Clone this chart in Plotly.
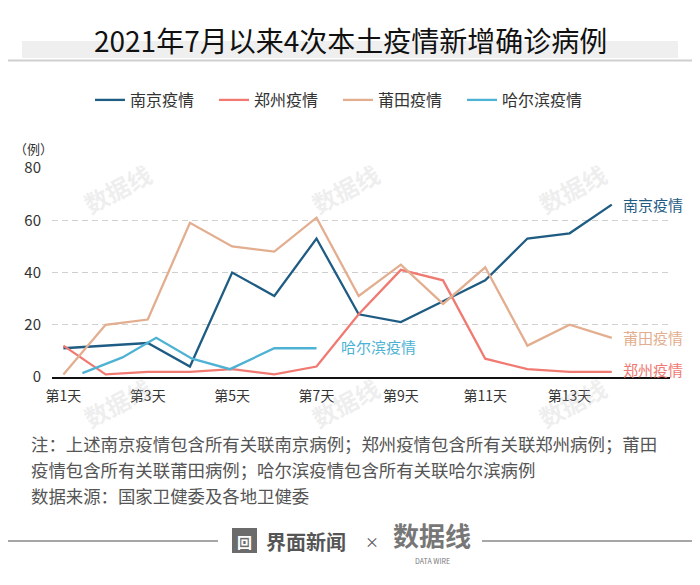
import plotly.graph_objects as go

# 数据：2021年7月以来4次本土疫情新增确诊病例（按疫情第N天）
days = list(range(1, 15))
nanjing = [11, 12, 13, 4, 40, 31, 53, 24, 21, 29, 37, 53, 55, 66]
zhengzhou = [12, 1, 2, 2, 3, 1, 4, 24, 41, 37, 7, 3, 2, 2]
putian = [1, 20, 22, 59, 50, 48, 61, 31, 43, 28, 42, 12, 20, 15]
harbin_days = [1.45, 2.4, 3.2, 4.05, 4.95, 6, 7]
harbin = [1.5, 7.5, 15, 7, 3, 11, 11]

tick_days = [1, 3, 5, 7, 9, 11, 13]
tick_text = ["第%d天" % d for d in tick_days]

names = ["南京疫情", "郑州疫情", "莆田疫情", "哈尔滨疫情"]
colors = ["#1f5c83", "#f07a72", "#e3ae8f", "#4db2d3"]

# 页面body默认有8px边距，画布整体缩小8px来抵消
OFF = 8
W, H = 700 - OFF, 585 - OFF
L, R, T, B = 52 - OFF, 30, 168 - OFF, 208
PW, PH = W - L - R, H - T - B


def px(x):
    # 参考图像素 -> paper坐标
    return (x - 52) / PW


def py(y):
    return (377 - y) / PH


FONT = "Noto Sans CJK SC, Noto Sans, sans-serif"

fig = go.Figure()

series = [(days, nanjing), (days, zhengzhou), (days, putian), (harbin_days, harbin)]
for (xs, ys), name, c in zip(series, names, colors):
    fig.add_trace(go.Scatter(
        x=xs, y=ys, mode="lines", name=name,
        line=dict(color=c, width=2.3),
        hoverinfo="x+y+name",
    ))


def note(x, y, text, size, color, anchor="center", angle=0):
    return dict(x=px(x), y=py(y), xref="paper", yref="paper", text=text,
                showarrow=False, xanchor=anchor, yanchor="middle", textangle=angle,
                font=dict(size=size, color=color, family=FONT))


# 线尾标签
end_labels = [
    (days[-1], nanjing[-1], names[0], colors[0], 9, 0),
    (days[-1], zhengzhou[-1], names[1], colors[1], 9, 2),
    (days[-1], putian[-1], names[2], colors[2], 9, 0),
    (harbin_days[-1], harbin[-1], names[3], colors[3], 22, 2),
]
annotations = []
for x, y, txt, c, xs, ys in end_labels:
    annotations.append(dict(
        x=x, y=y, xref="x", yref="y", text=txt, showarrow=False,
        xanchor="left", yanchor="middle", xshift=xs, yshift=ys,
        font=dict(size=15, color=c, family=FONT),
    ))

# 水印
for wx, wy in [(117, 188), (345, 188), (572, 188), (117, 402), (345, 402), (572, 402)]:
    annotations.append(note(wx, wy, "<b>数据线</b>", 24, "rgba(190,190,190,0.25)", angle=-28))

annotations += [
    note(350, 40, "2021年7月以来4次本土疫情新增确诊病例", 28, "#111"),
    note(12, 148, "（例）", 13, "#333", anchor="left"),
    note(29, 443, "注：上述南京疫情包含所有关联南京病例；郑州疫情包含所有关联郑州病例；莆田",
         17.4, "#555", anchor="left"),
    note(29, 469, "疫情包含所有关联莆田病例；哈尔滨疫情包含所有关联哈尔滨病例",
         17.4, "#555", anchor="left"),
    note(29, 495, "数据来源：国家卫健委及各地卫健委", 17.4, "#555", anchor="left"),
    # 底部logo
    note(244.5, 541, "<b>回</b>", 15, "white"),
    note(306, 541, "<b>界面新闻</b>", 20, "#555"),
    note(372, 541, "×", 14, "#555"),
    note(432, 534, "<b>数据线</b>", 26, "#777"),
    note(432, 561, "DATA WIRE", 7, "#777"),
]

shapes = [
    dict(type="rect", xref="paper", yref="paper", x0=px(22), x1=px(678),
         y0=py(58), y1=py(41), fillcolor="#efefef", line_width=0, layer="below"),
    dict(type="line", xref="paper", yref="paper", x0=px(0), x1=px(700),
         y0=py(60.5), y1=py(60.5), line=dict(color="#cfcfcf", width=2)),
    dict(type="line", xref="paper", yref="paper", x0=px(0), x1=px(218),
         y0=py(541), y1=py(541), line=dict(color="#888", width=1.5)),
    dict(type="line", xref="paper", yref="paper", x0=px(482), x1=px(700),
         y0=py(541), y1=py(541), line=dict(color="#888", width=1.5)),
    dict(type="rect", xref="paper", yref="paper", x0=px(232), x1=px(257),
         y0=py(553), y1=py(528), fillcolor="#6b6b6b", line_width=0, layer="below"),
]

fig.update_layout(
    width=W, height=H,
    margin=dict(l=L, r=R, t=T, b=B, autoexpand=False),
    paper_bgcolor="white", plot_bgcolor="white",
    font=dict(family=FONT, color="#333"),
    showlegend=True,
    legend=dict(
        orientation="h", x=px(90), y=py(100), xanchor="left", yanchor="middle",
        font=dict(size=16, color="#333", family=FONT),
        entrywidth=79, entrywidthmode="pixels",
        itemwidth=30, bgcolor="rgba(0,0,0,0)",
    ),
    xaxis=dict(
        range=[0.73, 15.38], tickmode="array", tickvals=tick_days, ticktext=tick_text,
        showgrid=False, zeroline=False, showline=True, linecolor="#111", linewidth=2,
        ticks="", tickfont=dict(size=14, color="#333", family=FONT),
        ticklabelstandoff=5,
    ),
    yaxis=dict(
        range=[0, 80], tickvals=[0, 20, 40, 60, 80], showgrid=True,
        gridcolor="#cfcfcf", griddash="6px,4px", gridwidth=1, zeroline=False,
        showline=False, ticks="", tickfont=dict(size=15, color="#333", family=FONT),
        ticklabelstandoff=10,
    ),
    annotations=annotations,
    shapes=shapes,
)

fig.write_html("out.html")
